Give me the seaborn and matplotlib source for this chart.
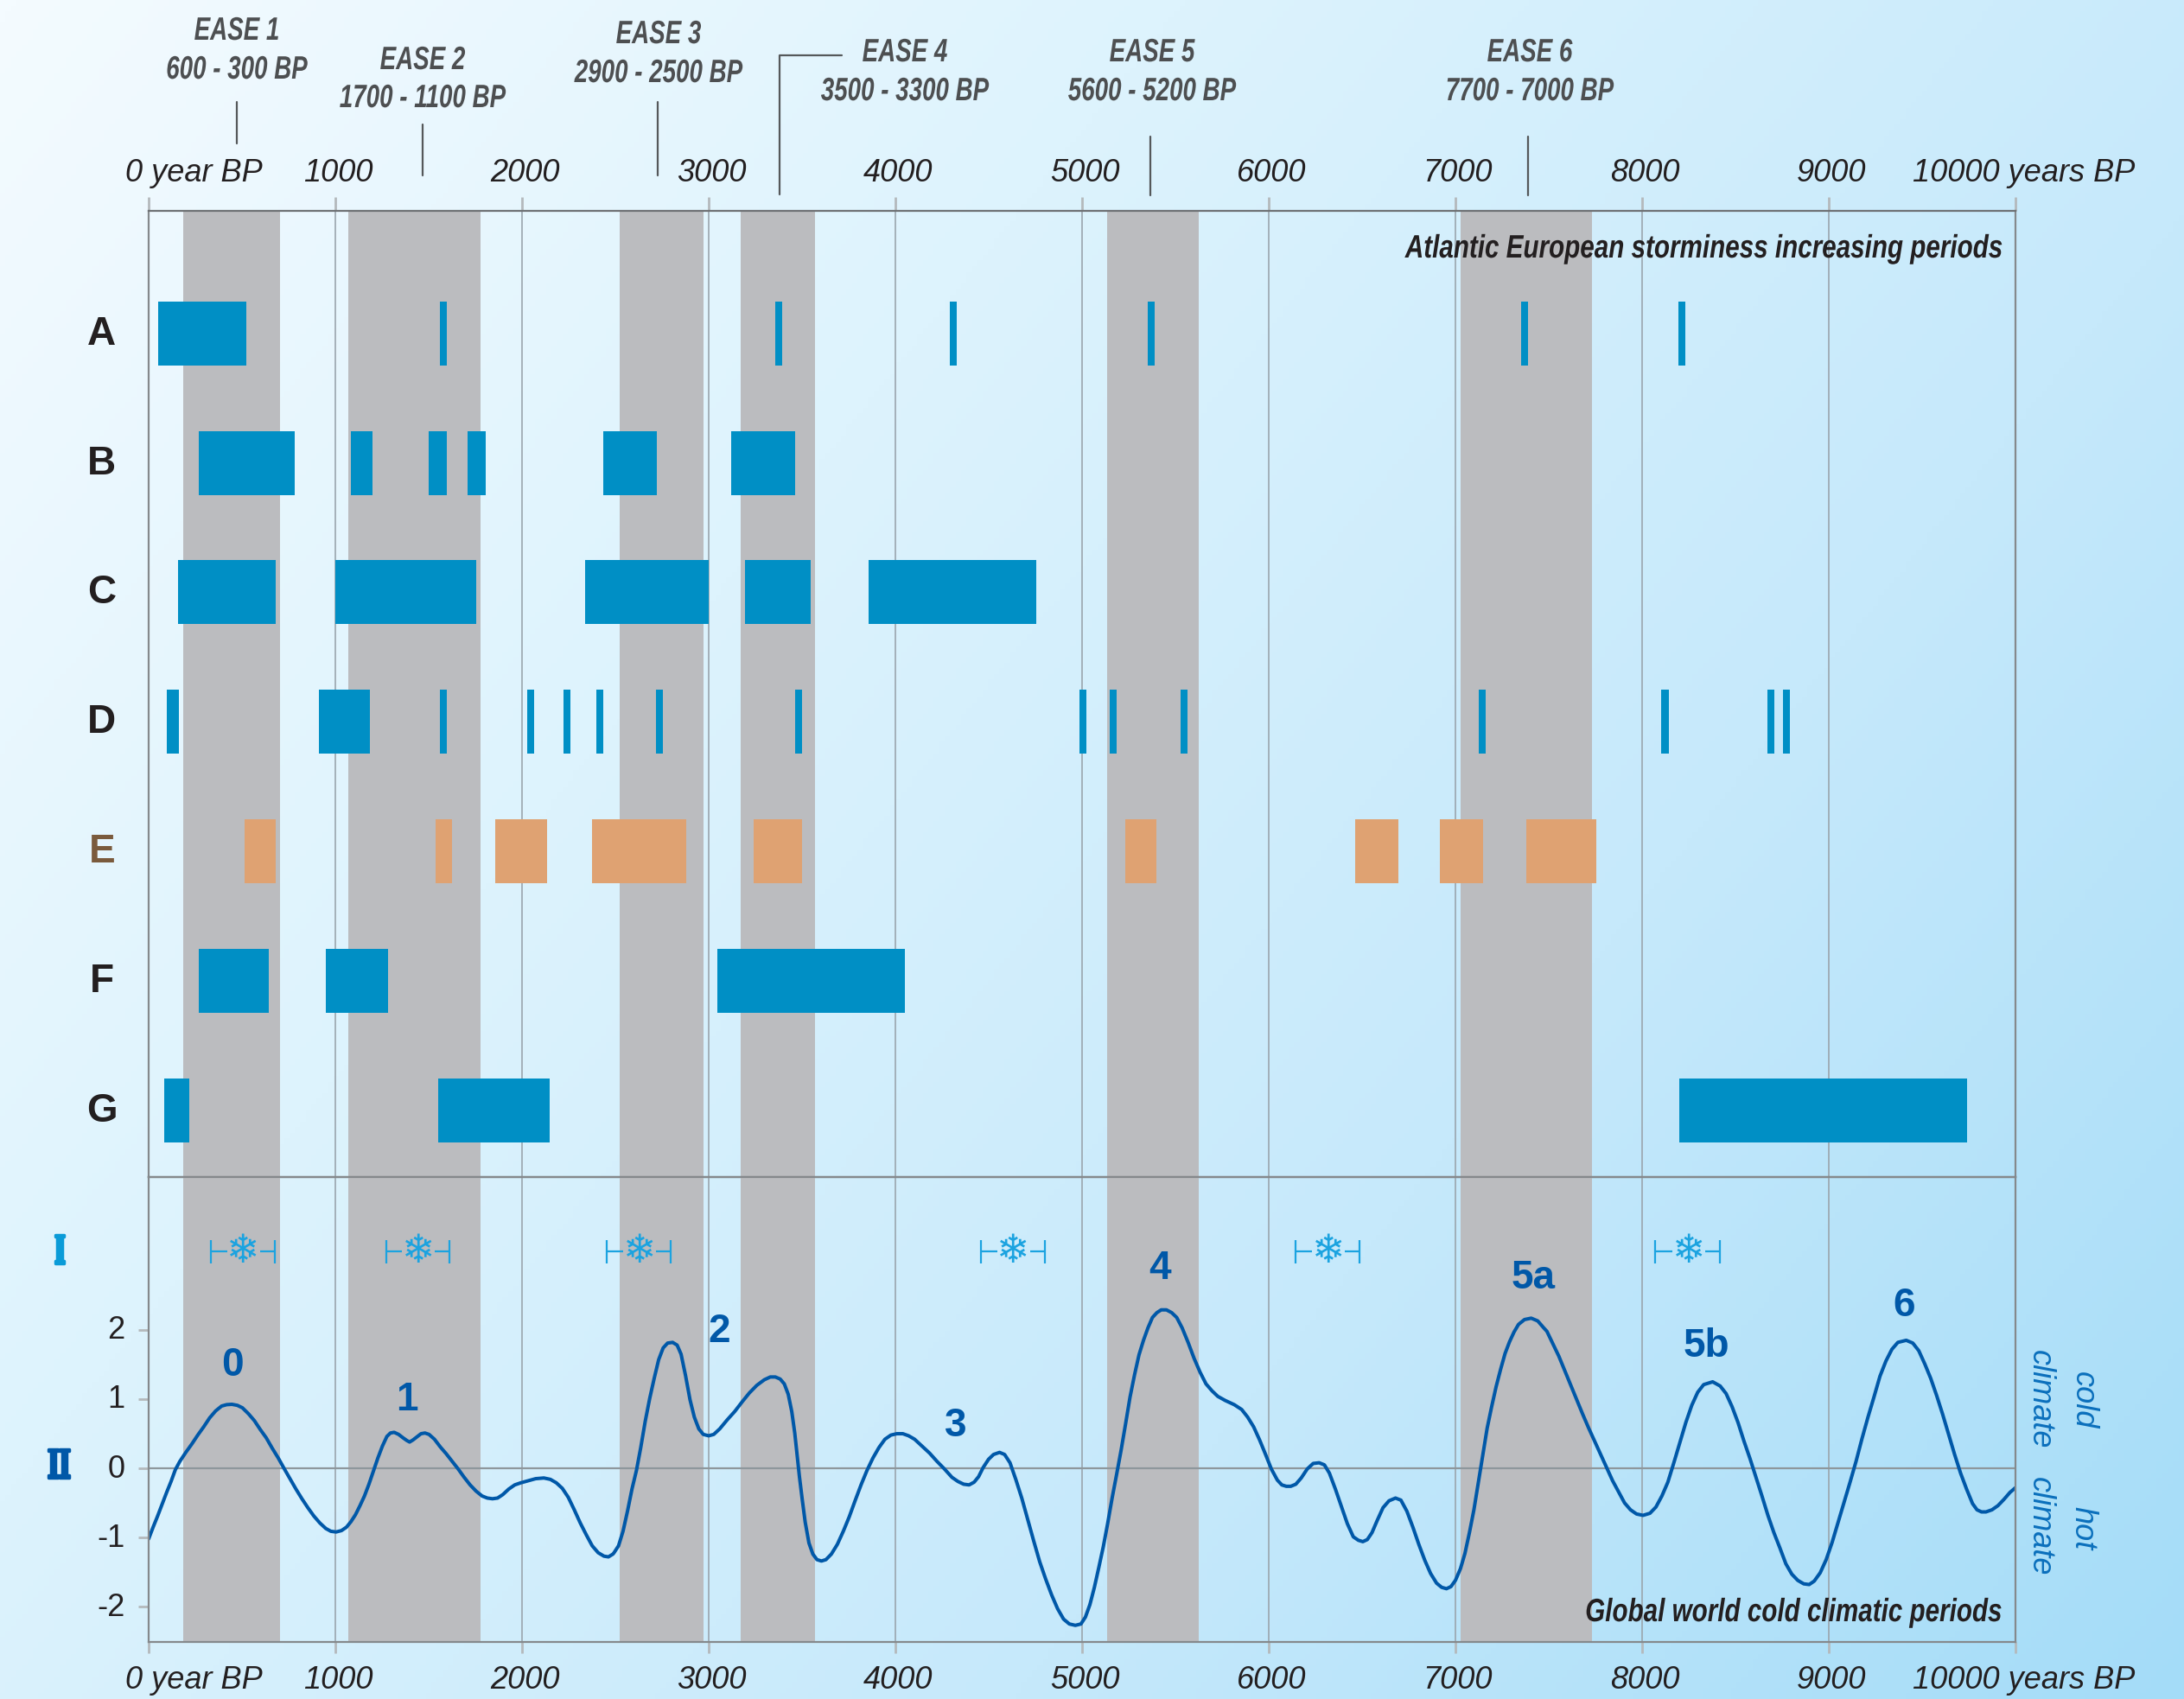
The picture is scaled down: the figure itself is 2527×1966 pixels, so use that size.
import matplotlib
matplotlib.use('Agg')
import matplotlib.pyplot as plt
import numpy as np
import pandas as pd
import seaborn as sns
from matplotlib.colors import LinearSegmentedColormap
from matplotlib.lines import Line2D
from matplotlib.patheffects import AbstractPathEffect
from matplotlib.transforms import Affine2D, ScaledTranslation

W, H = 2527, 1966

# EASE periods, grey bands (years BP)
band_start = [185, 1069, 2523, 3171, 5134, 7030]
band_end = [704, 1778, 2972, 3569, 5627, 7731]

cores = ['A', 'B', 'C', 'D', 'E', 'F', 'G']
rows_a = [(50, 523), (1560, 1597), (3356, 3393), (4290, 4328), (5350, 5388), (7350, 7388), (8194, 8231)]
rows_b = [(269, 783), (1082, 1201), (1500, 1597), (1709, 1806), (2433, 2724), (3119, 3463)]
rows_c = [(157, 679), (1000, 1754), (2336, 3000), (3194, 3545), (3858, 4754)]
rows_d = [(97, 164), (910, 1187), (1560, 1597), (2030, 2067), (2224, 2261), (2396, 2433), (2716, 2754),
          (3463, 3500), (4985, 5022), (5149, 5187), (5530, 5567), (7127, 7164), (8104, 8142), (8672, 8709),
          (8754, 8791)]
rows_e = [(515, 679), (1537, 1627), (1858, 2134), (2373, 2881), (3239, 3500), (5231, 5396), (6463, 6694),
          (6918, 7149), (7381, 7754)]
rows_f = [(269, 642), (948, 1284), (3045, 4052)]
rows_g = [(82, 216), (1552, 2149), (8201, 9739)]
intervals = [rows_a, rows_b, rows_c, rows_d, rows_e, rows_f, rows_g]

# Global cold periods (I)
cold_start = [334, 1271, 2454, 4459, 6143, 8070]
cold_end = [676, 1613, 2796, 4800, 6487, 8416]
cold_flake = [507, 1446, 2629, 4632, 6319, 8252]

# Climate curve (II)
curve_year_1 = [0, 24, 48, 72, 96, 120, 143, 167, 199, 231, 263, 295, 327, 359, 391, 418, 446, 475, 502, 534, 566, 598,
                630, 662, 694, 725, 757, 789, 821, 853, 885, 917, 949, 976, 1004, 1033, 1060, 1084, 1108, 1132, 1156,
                1180, 1204, 1228, 1252, 1276, 1295, 1315, 1339, 1363, 1384, 1398, 1416, 1435, 1459, 1480, 1502, 1531,
                1562, 1594, 1626, 1658, 1690, 1722, 1754, 1786, 1814, 1842, 1869, 1897, 1929, 1961, 1993, 2033, 2073,
                2117, 2152, 2184, 2216, 2248, 2280, 2312, 2344, 2376, 2408, 2439, 2463, 2487]
curve_value_1 = [-1.02, -0.85, -0.69, -0.52, -0.35, -0.19, -0.02, 0.10, 0.23, 0.35, 0.48, 0.60, 0.73, 0.83, 0.90, 0.92,
                 0.925, 0.91, 0.875, 0.79, 0.69, 0.56, 0.44, 0.29, 0.15, 0.0, -0.15, -0.30, -0.44, -0.57, -0.69, -0.79,
                 -0.87, -0.91, -0.92, -0.90, -0.85, -0.77, -0.67, -0.54, -0.40, -0.23, -0.04, 0.15, 0.32, 0.46, 0.51,
                 0.52, 0.49, 0.44, 0.40, 0.38, 0.41, 0.45, 0.50, 0.51, 0.49, 0.42, 0.31, 0.21, 0.10, -0.01, -0.13, -0.24,
                 -0.33, -0.40, -0.43, -0.44, -0.43, -0.38, -0.30, -0.24, -0.21, -0.18, -0.15, -0.14, -0.16, -0.21, -0.29,
                 -0.42, -0.60, -0.79, -0.96, -1.12, -1.22, -1.27, -1.28, -1.24]
curve_year_2 = [2493, 2517, 2541, 2565, 2589, 2613, 2636, 2660, 2684, 2708, 2732, 2756, 2780, 2807, 2831, 2852, 2876,
                2900, 2923, 2947, 2971, 3000, 3027, 3059, 3099, 3139, 3179, 3218, 3258, 3298, 3330, 3357, 3383, 3405,
                3426, 3445, 3461, 3474, 3486, 3501, 3517, 3537, 3558, 3580, 3604, 3628, 3657, 3689, 3721, 3753, 3784,
                3816, 3848, 3880, 3912, 3944, 3976, 4008, 4040, 4071, 4103, 4143, 4183, 4223, 4263, 4303, 4335, 4366,
                4395, 4422, 4446, 4470, 4499, 4526, 4558, 4585, 4614, 4645, 4677, 4709, 4741, 4773, 4805, 4837, 4869,
                4901, 4932, 4964]
curve_value_2 = [-1.22, -1.12, -0.91, -0.62, -0.30, -0.03, 0.30, 0.68, 1.01, 1.30, 1.57, 1.74, 1.81, 1.82, 1.78, 1.65,
                 1.34, 0.99, 0.74, 0.57, 0.49, 0.47, 0.49, 0.57, 0.70, 0.82, 0.96, 1.09, 1.20, 1.28, 1.32, 1.32, 1.29,
                 1.22, 1.07, 0.82, 0.51, 0.18, -0.12, -0.45, -0.78, -1.08, -1.24, -1.32, -1.34, -1.32, -1.24, -1.10,
                 -0.91, -0.70, -0.47, -0.24, -0.03, 0.15, 0.30, 0.42, 0.48, 0.50, 0.50, 0.47, 0.42, 0.32, 0.22, 0.10,
                 -0.01, -0.13, -0.19, -0.23, -0.24, -0.20, -0.12, 0.01, 0.13, 0.20, 0.23, 0.20, 0.08, -0.16, -0.43,
                 -0.74, -1.05, -1.35, -1.60, -1.83, -2.03, -2.18, -2.25, -2.27]
curve_year_3 = [4994, 5018, 5042, 5066, 5090, 5114, 5137, 5161, 5185, 5209, 5233, 5257, 5281, 5305, 5329, 5353, 5377,
                5401, 5424, 5452, 5480, 5507, 5536, 5568, 5600, 5632, 5664, 5696, 5727, 5767, 5815, 5855, 5887, 5919,
                5951, 5983, 6014, 6046, 6070, 6094, 6118, 6145, 6174, 6206, 6238, 6270, 6298, 6325, 6357, 6389, 6421,
                6453, 6480, 6504, 6528, 6553, 6580, 6612, 6644, 6679, 6708, 6740, 6772, 6804, 6836, 6867, 6899, 6926,
                6952, 6976, 7000, 7027, 7051, 7075, 7099, 7122, 7146, 7170, 7194, 7218, 7242, 7266, 7290, 7314, 7338,
                7370, 7406, 7441, 7473]
curve_value_3 = [-2.25, -2.15, -1.97, -1.72, -1.43, -1.13, -0.80, -0.43, -0.09, 0.26, 0.64, 1.03, 1.35, 1.64, 1.85, 2.03,
                 2.18, 2.25, 2.29, 2.29, 2.25, 2.18, 2.03, 1.82, 1.59, 1.39, 1.22, 1.12, 1.04, 0.98, 0.92, 0.85, 0.74,
                 0.60, 0.41, 0.20, -0.01, -0.17, -0.24, -0.26, -0.26, -0.23, -0.14, -0.01, 0.07, 0.08, 0.05, -0.07,
                 -0.30, -0.55, -0.80, -0.99, -1.04, -1.06, -1.03, -0.93, -0.76, -0.57, -0.47, -0.43, -0.46, -0.62, -0.85,
                 -1.10, -1.33, -1.52, -1.66, -1.72, -1.74, -1.71, -1.62, -1.45, -1.23, -0.93, -0.60, -0.22, 0.18, 0.58,
                 0.89, 1.18, 1.43, 1.66, 1.83, 1.97, 2.08, 2.15, 2.17, 2.13, 2.03]
curve_year_4 = [7490, 7522, 7554, 7586, 7618, 7650, 7682, 7714, 7746, 7778, 7810, 7842, 7874, 7906, 7938, 7970, 8005,
                8042, 8074, 8106, 8138, 8170, 8202, 8234, 8266, 8298, 8330, 8378, 8418, 8450, 8482, 8514, 8546, 8578,
                8610, 8642, 8674, 8706, 8738, 8770, 8802, 8834, 8866, 8895, 8922, 8954, 8986, 9018, 9050, 9082, 9114,
                9146, 9178, 9210, 9242, 9274, 9306, 9338, 9370, 9415, 9450, 9482, 9514, 9546, 9578, 9610, 9642, 9674,
                9706, 9738, 9770, 9794, 9818, 9842, 9874, 9906, 9938, 9970, 10000]
curve_value_4 = [1.98, 1.80, 1.62, 1.41, 1.20, 0.99, 0.78, 0.58, 0.39, 0.20, 0.01, -0.18, -0.34, -0.50, -0.60, -0.66,
                 -0.68, -0.65, -0.56, -0.40, -0.20, 0.08, 0.37, 0.66, 0.91, 1.10, 1.21, 1.25, 1.19, 1.08, 0.89, 0.66,
                 0.39, 0.14, -0.13, -0.40, -0.68, -0.93, -1.15, -1.38, -1.53, -1.62, -1.67, -1.68, -1.63, -1.51, -1.32,
                 -1.07, -0.78, -0.49, -0.20, 0.10, 0.43, 0.74, 1.03, 1.33, 1.55, 1.72, 1.82, 1.85, 1.81, 1.70, 1.51, 1.30,
                 1.05, 0.78, 0.49, 0.20, -0.07, -0.30, -0.51, -0.60, -0.63, -0.63, -0.60, -0.54, -0.45, -0.35, -0.28]
curve_year = curve_year_1 + curve_year_2 + curve_year_3 + curve_year_4
curve_value = curve_value_1 + curve_value_2 + curve_value_3 + curve_value_4

peak_labels = ['0', '1', '2', '3', '4', '5a', '5b', '6']
peak_year = [451, 1385, 3056, 4324, 5415, 7418, 8345, 9405]
peak_value = [1.49, 0.99, 1.98, 0.61, 2.88, 2.75, 1.76, 2.35]

year_ticks = list(range(0, 11000, 1000))
year_labels = ['0 year BP'] + [str(y) for y in year_ticks[1:-1]] + ['10000 years BP']
value_ticks = [2, 1, 0, -1, -2]
value_labels = ['2', '1', '0', '-1', '-2']

ease_names = ['EASE 1', 'EASE 2', 'EASE 3', 'EASE 4', 'EASE 5', 'EASE 6']
ease_ranges = ['600 - 300 BP', '1700 - 1100 BP', '2900 - 2500 BP', '3500 - 3300 BP', '5600 - 5200 BP', '7700 - 7000 BP']

BLUE = '#008FC5'
ORANGE = '#DFA272'
GREY = '#BBBCBF'
CURVE = '#0058A8'
SANS = 'Liberation Sans'

sns.set_theme(style='ticks')
plt.rcParams['font.family'] = [SANS, 'DejaVu Sans']


def fx(x):
    return x / W


def fy(y):
    return 1 - y / H


class Squeeze(AbstractPathEffect):
    # the labels of the original are set in a condensed face, narrow the glyphs around an anchor pixel
    def __init__(self, anchor, factor, stroke=0):
        super().__init__()
        self.anchor = anchor
        self.factor = factor
        self.stroke = stroke

    def draw_path(self, renderer, gc, tpath, affine, rgbFace=None):
        squeeze = Affine2D().translate(-self.anchor, 0).scale(self.factor, 1).translate(self.anchor, 0)
        if self.stroke:
            gc0 = renderer.new_gc()
            gc0.copy_properties(gc)
            gc0.set_linewidth(self.stroke)
            gc0.set_foreground(rgbFace)
            renderer.draw_path(gc0, tpath, affine + squeeze, rgbFace)
            gc0.restore()
        else:
            renderer.draw_path(gc, tpath, affine + squeeze, rgbFace)


fig = plt.figure(figsize=(W / 100, H / 100), dpi=100)

# background gradient
bg = fig.add_axes([0, 0, 1, 1], zorder=-5)
xx, yy = np.meshgrid(np.linspace(0, 1, 400), np.linspace(0, 1, 300))
cmap = LinearSegmentedColormap.from_list('bg', ['#F4FBFF', '#DDF3FD', '#C6E9FB', '#A4DCF8'])
bg.imshow((xx * 0.62 + yy * 0.38), cmap=cmap, aspect='auto', vmin=0, vmax=1)
bg.axis('off')

ax_top = fig.add_axes([fx(172), fy(1362), 2160 / W, 1118 / H])
ax_bot = fig.add_axes([fx(172), fy(1900), 2160 / W, 538 / H])

for ax in (ax_top, ax_bot):
    ax.patch.set_alpha(0)
    for s, e in zip(band_start, band_end):
        ax.axvspan(s, e, color=GREY, lw=0, zorder=0.6)

# storm periods per core
for core, spans in zip(cores, intervals):
    for s, e in spans:
        sns.barplot(x=[e - s], y=[core], left=[s], order=cores, orient='h', width=0.494, saturation=1,
                    color=ORANGE if core == 'E' else BLUE, edgecolor='none', linewidth=0, ax=ax_top, zorder=2)

ax_top.set_ylim(6.517, -0.947)
ax_top.set_xlim(0, 10000)
ax_top.set(xlabel='', ylabel='')
ax_top.xaxis.tick_top()
ax_top.set_xticks(year_ticks, year_labels, fontsize=26, style='italic', color='#231F20')
ax_top.tick_params(axis='x', length=11.5, width=2, color='#B4B9BC', pad=7.5)
ax_top.tick_params(axis='y', length=0, pad=39)
for lab in ax_top.get_yticklabels():
    lab.set_fontsize(33)
    lab.set_fontweight('bold')
    lab.set_ha('center')
    lab.set_color('#7A5A3C' if lab.get_text() == 'E' else '#231F20')
    lab.set_transform(lab.get_transform() + ScaledTranslation(0, 4 / 100, fig.dpi_scale_trans))

# climate curve
curve = pd.DataFrame({'year': curve_year, 'value': curve_value})
sns.lineplot(data=curve, x='year', y='value', color=CURVE, lw=2.9, estimator=None, sort=False, ax=ax_bot, zorder=4)
ax_bot.axhline(0, color='#8E979C', lw=1.6, zorder=3)

for s, e, c in zip(cold_start, cold_end, cold_flake):
    ax_bot.vlines([s, e], 3.13 - 0.17, 3.13 + 0.17, color='#1BA3E0', lw=1.6, zorder=3)
    ax_bot.hlines([3.13, 3.13], [s, c + 88], [c - 88, e], color='#1BA3E0', lw=1.6, zorder=3)
    ax_bot.text(c, 3.13, '\u2744', family='DejaVu Sans', fontsize=33, color='#1BA3E0', ha='center', va='center')

for lab, x, y in zip(peak_labels, peak_year, peak_value):
    ax_bot.text(x, y, lab, fontsize=33, fontweight='bold', color=CURVE, ha='center', va='center', zorder=5)

ax_bot.set_xlim(0, 10000)
ax_bot.set_ylim(-2.51, 4.21)
ax_bot.set(xlabel='', ylabel='')
ax_bot.set_xticks(year_ticks, year_labels, fontsize=26, style='italic', color='#231F20')
ax_bot.set_yticks(value_ticks, value_labels, fontsize=26, color='#231F20')
ax_bot.tick_params(axis='x', length=9, width=2, color='#B4B9BC', pad=10.5)
ax_bot.tick_params(axis='y', length=8.6, width=2, color='#B4B9BC', pad=11)
for lab in ax_bot.get_yticklabels():
    lab.set_transform(lab.get_transform() + ScaledTranslation(0, 3 / 100, fig.dpi_scale_trans))

for ax in (ax_top, ax_bot):
    ax.grid(axis='x', color='#9AA5AD', lw=1.2, zorder=0.5)
    ax.set_axisbelow(True)
    for side in ax.spines:
        ax.spines[side].set_visible(True)
        ax.spines[side].set_color('#85898C')
        ax.spines[side].set_linewidth(1.6)
        ax.spines[side].set_zorder(6)
ax_top.spines['bottom'].set_color('#6E7174')
ax_top.spines['top'].set_color('#6E7174')

# year labels sit a little off their ticks, the first and last ones most
for ax in (ax_top, ax_bot):
    labs = ax.get_xticklabels()
    for lab in labs[1:-1]:
        lab.set_transform(lab.get_transform() + ScaledTranslation(3 / 100, 0, fig.dpi_scale_trans))
    labs[0].set_transform(labs[0].get_transform() + ScaledTranslation(52 / 100, 0, fig.dpi_scale_trans))
    labs[-1].set_transform(labs[-1].get_transform() + ScaledTranslation(10 / 100, 0, fig.dpi_scale_trans))

# EASE headers
name_x = [274, 489, 762, 1047, 1333, 1770]
name_y = [36, 70, 40, 61, 61, 61]
range_y = [81, 114, 85, 106, 106, 106]
for name, rng, x, y1, y2 in zip(ease_names, ease_ranges, name_x, name_y, range_y):
    fig.text(fx(x), fy(y1), name, fontsize=27, style='italic', fontweight='bold', color='#4D4F51',
             ha='center', va='center', path_effects=[Squeeze(x, 0.74)])
    fig.text(fx(x), fy(y2), rng, fontsize=27, style='italic', fontweight='bold', color='#4D4F51',
             ha='center', va='center', path_effects=[Squeeze(x, 0.74)])

leaders = [([274, 274], [118, 166]), ([489, 489], [144, 203]), ([761, 761], [118, 203]),
           ([974, 902, 902], [64, 64, 225]), ([1331, 1331], [158, 226]), ([1768, 1768], [158, 226])]
for xs, ys in leaders:
    fig.add_artist(Line2D([fx(v) for v in xs], [fy(v) for v in ys], color='#55585A', lw=1.6))

fig.text(fx(2317), fy(288), 'Atlantic European storminess increasing periods', fontsize=27,
         style='italic', fontweight='bold', color='#231F20', ha='right', va='center',
         path_effects=[Squeeze(2317, 0.79)])
fig.text(fx(2316), fy(1866), 'Global world cold climatic periods', fontsize=27,
         style='italic', fontweight='bold', color='#231F20', ha='right', va='center',
         path_effects=[Squeeze(2316, 0.79)])

# side labels
fig.text(fx(69), fy(1449), 'I', family='DejaVu Serif', fontsize=33, fontweight='bold', color='#0A9BD8',
         ha='center', va='center', path_effects=[Squeeze(69, 0.6, stroke=2.5)])
fig.text(fx(68), fy(1697), 'II', family='DejaVu Serif', fontsize=33, fontweight='bold', color=CURVE,
         ha='center', va='center', path_effects=[Squeeze(68, 0.6, stroke=2.5)])

for txt, x, y in [('climate', 2360, 1619), ('cold', 2410, 1620), ('climate', 2360, 1766), ('hot', 2410, 1768)]:
    fig.text(fx(x), fy(y), txt, fontsize=26, style='italic', color='#0A6FBC', rotation=270, ha='center', va='center')

fig.savefig('out.png', dpi=100)
